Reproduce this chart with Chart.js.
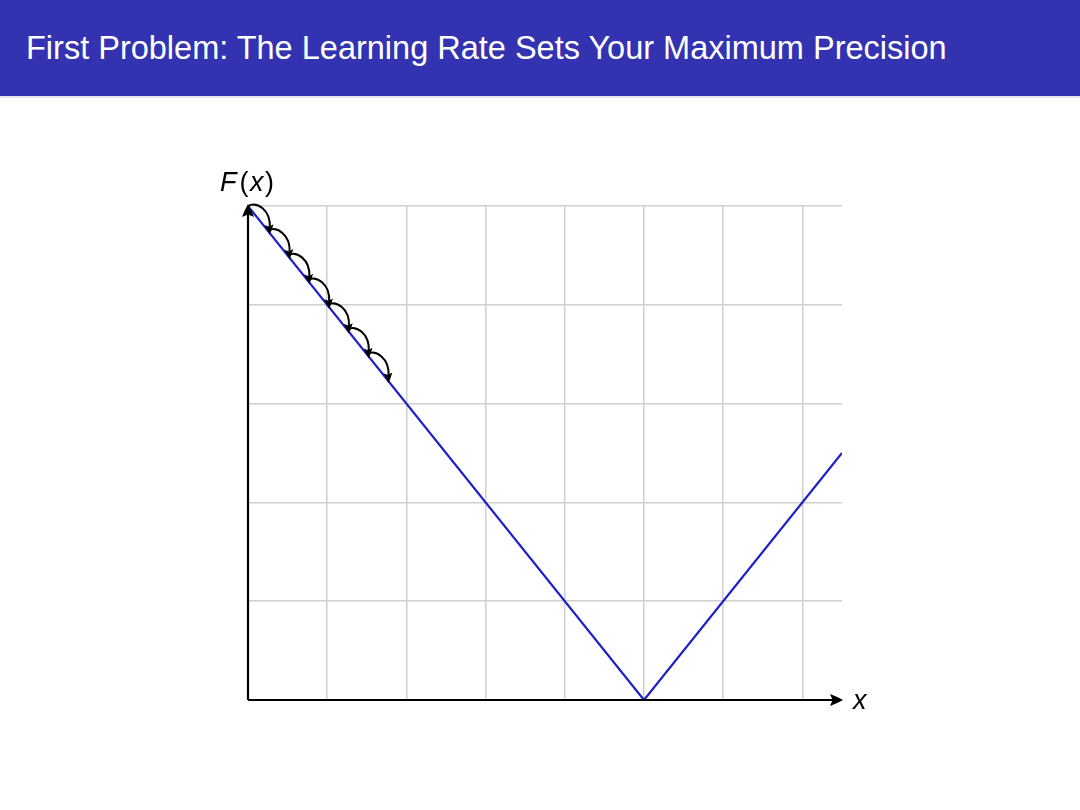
<!DOCTYPE html>
<html>
<head>
<meta charset="utf-8">
<script src="https://cdn.jsdelivr.net/npm/chart.js@4/dist/chart.umd.min.js"></script>
<style>
  html, body { margin: 0; padding: 0; background: #fff; }
  #wrap { position: relative; width: 1080px; height: 810px; overflow: hidden; }
  #bar { position: absolute; left: 0; top: 0; width: 1080px; height: 96px; background: #3333b2;
         color: #fff; font-family: "Liberation Sans", Arial, sans-serif; font-size: 32.5px;
         line-height: 96px; padding-left: 26px; box-sizing: border-box; }
  #bar::after { content: ""; position: absolute; left: 0; right: 0; top: 96px; height: 2px; background: #e4e4ee; }
  canvas { position: absolute; left: 0; top: 0; }
</style>
</head>
<body>
<div id="wrap">
  <canvas id="plot" width="1080" height="810"></canvas>
  <div id="bar">First Problem: The Learning Rate Sets Your Maximum Precision</div>
</div>
<script>
// F(x) curve
const curveX = [0, 5, 7.5];
const curveY = [5, 0, 2.5];
// gradient steps (fixed learning rate)
const stepX = [0, 0.25, 0.5, 0.75, 1, 1.25, 1.5, 1.75];
const stepY = [5, 4.75, 4.5, 4.25, 4, 3.75, 3.5, 3.25];

const xMax = 7.5, yMax = 5;

function arrowHead(ctx, x, y, ang, len, wid) {
  ctx.save();
  ctx.translate(x, y);
  ctx.rotate(ang);
  ctx.beginPath();
  ctx.moveTo(0, 0);
  ctx.quadraticCurveTo(-len * 0.5, -wid * 0.3, -len, -wid / 2);
  ctx.lineTo(-len * 0.8, 0);
  ctx.lineTo(-len, wid / 2);
  ctx.quadraticCurveTo(-len * 0.5, wid * 0.3, 0, 0);
  ctx.closePath();
  ctx.fill();
  ctx.restore();
}

const decor = {
  id: 'decor',
  afterDatasetsDraw(chart) {
    const ctx = chart.ctx;
    const xs = chart.scales.x, ys = chart.scales.y;
    const x0 = xs.getPixelForValue(0), y0 = ys.getPixelForValue(0);
    const xe = xs.getPixelForValue(xMax), ye = ys.getPixelForValue(yMax);
    ctx.save();
    ctx.strokeStyle = '#000';
    ctx.fillStyle = '#000';
    ctx.lineWidth = 2.2;
    // axes
    ctx.beginPath();
    ctx.moveTo(x0, y0); ctx.lineTo(xe - 6, y0);
    ctx.moveTo(x0, y0); ctx.lineTo(x0, ye + 6);
    ctx.stroke();
    arrowHead(ctx, xe + 1, y0, 0, 13, 12);
    arrowHead(ctx, x0, ye - 2, -Math.PI / 2, 13, 12);

    // step arcs
    ctx.lineWidth = 2;
    for (let i = 0; i < stepX.length - 1; i++) {
      const ax = xs.getPixelForValue(stepX[i]), ay = ys.getPixelForValue(stepY[i]);
      const bx = xs.getPixelForValue(stepX[i + 1]), by = ys.getPixelForValue(stepY[i + 1]);
      const dx = bx - ax, dy = by - ay;
      const ex = bx + 2, ey = by - 3;
      ctx.beginPath();
      ctx.moveTo(ax, ay);
      ctx.bezierCurveTo(ax + dx * 0.45, ay - 5, ex + 1, ay + dy * 0.15, ex, ey);
      ctx.stroke();
      arrowHead(ctx, ex, by + 4, Math.PI / 2 - 0.08, 10, 9);
    }

    // axis labels
    ctx.textBaseline = 'alphabetic';
    ctx.textAlign = 'left';
    const fam = '"Liberation Sans", Arial, sans-serif';
    let lx = x0 - 28, ly = ye - 15;
    const parts = [['F', 'italic '], ['(', ''], ['x', 'italic '], [')', '']];
    parts.forEach(([t, st], k) => {
      ctx.font = st + '27px ' + fam;
      ctx.fillText(t, lx, ly);
      lx += ctx.measureText(t).width + (k === 0 ? 3 : 1.5);
    });
    ctx.font = 'italic 27px ' + fam;
    ctx.fillText('x', xe + 11, y0 + 9);
    ctx.restore();
  }
};

new Chart(document.getElementById('plot'), {
  type: 'scatter',
  data: {
    datasets: [{
      data: curveX.map((x, i) => ({ x, y: curveY[i] })),
      showLine: true,
      borderColor: '#1f1fcc',
      borderWidth: 2.2,
      pointRadius: 0,
      fill: false
    }]
  },
  options: {
    responsive: false,
    animation: false,
    layout: { padding: { left: 248, right: 238, top: 206, bottom: 110 } },
    plugins: { legend: { display: false }, tooltip: { enabled: false } },
    scales: {
      x: {
        type: 'linear', min: 0, max: xMax,
        ticks: { display: false, stepSize: 1, includeBounds: false },
        grid: { color: '#cfcfcf', lineWidth: 1.5, drawTicks: false },
        border: { display: false }
      },
      y: {
        type: 'linear', min: 0, max: yMax,
        ticks: { display: false, stepSize: 1 },
        grid: { color: '#cfcfcf', lineWidth: 1.5, drawTicks: false },
        border: { display: false }
      }
    }
  },
  plugins: [decor]
});
</script>
</body>
</html>
